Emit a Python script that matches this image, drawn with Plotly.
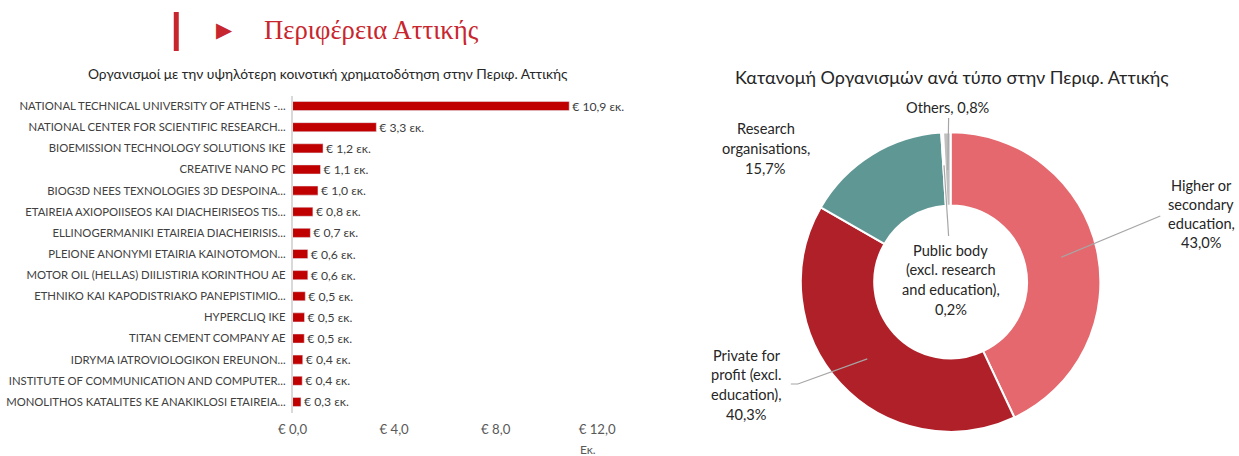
import math
import plotly.graph_objects as go

W, H = 1239, 456

# ---------------- data ----------------
org_names = [
    "NATIONAL TECHNICAL UNIVERSITY OF ATHENS -...",
    "NATIONAL CENTER FOR SCIENTIFIC RESEARCH...",
    "BIOEMISSION TECHNOLOGY SOLUTIONS IKE",
    "CREATIVE NANO PC",
    "BIOG3D NEES TEXNOLOGIES 3D DESPOINA...",
    "ETAIREIA AXIOPOIISEOS KAI DIACHEIRISEOS TIS...",
    "ELLINOGERMANIKI ETAIREIA DIACHEIRISIS...",
    "PLEIONE ANONYMI ETAIRIA KAINOTOMON...",
    "MOTOR OIL (HELLAS) DIILISTIRIA KORINTHOU AE",
    "ETHNIKO KAI KAPODISTRIAKO PANEPISTIMIO...",
    "HYPERCLIQ IKE",
    "TITAN CEMENT COMPANY AE",
    "IDRYMA IATROVIOLOGIKON EREUNON...",
    "INSTITUTE OF COMMUNICATION AND COMPUTER...",
    "MONOLITHOS KATALITES KE ANAKIKLOSI ETAIREIA...",
]
org_funding = [10.9, 3.3, 1.2, 1.1, 1.0, 0.8, 0.7, 0.6, 0.6, 0.5, 0.47, 0.46, 0.4, 0.38, 0.33]
x_ticks = [0, 4, 8, 12]
x_tick_text = ["€ 0,0", "€ 4,0", "€ 8,0", "€ 12,0"]

type_names = [
    "Higher or secondary education",
    "Private for profit (excl. education)",
    "Research organisations",
    "Public body (excl. research and education)",
    "Others",
]
type_shares = [43.0, 40.3, 15.7, 0.2, 0.8]
type_label_lines = [
    ["Higher or", "secondary", "education,", "43,0%"],
    ["Private for", "profit (excl.", "education),", "40,3%"],
    ["Research", "organisations,", "15,7%"],
    ["Public body", "(excl. research", "and education),", "0,2%"],
    ["Others, 0,8%"],
]
type_colors = ["#E4686E", "#B02029", "#5F9795", "#8C8C8C", "#BFBFBF"]

main_title = "Περιφέρεια Αττικής"
bar_title = "Οργανισμοί με την υψηλότερη κοινοτική χρηματοδότηση στην Περιφ. Αττικής"
pie_title = "Κατανομή Οργανισμών ανά τύπο στην Περιφ. Αττικής"

# ---------------- layout helpers ----------------
# the page renders the figure slightly narrower and offset; compensate
SX, OX = 0.974, 13.0


def px(x):
    return (x - OX) / SX / W


def py(y):
    return 1 - y / H


FONT = "Lato"
TXT = "#404040"

# bar plot area (target pixels)
BX0, BX1 = 291, 596
BY0, BY1 = 95.5, 412.5

# donut geometry (target pixels)
CX, CY, R = 950, 282, 150
HOLE = 0.51

fig = go.Figure()

fig.add_trace(go.Bar(
    x=org_funding, y=org_names, orientation="h",
    marker=dict(color="#C00000"),
    texttemplate="€ %{x:.1f} εκ.", textposition="outside",
    textfont=dict(family=FONT, size=12.2, color=TXT),
    cliponaxis=False, constraintext="none",
    xaxis="x", yaxis="y", showlegend=False, hoverinfo="skip",
))

fig.add_trace(go.Pie(
    labels=type_names, values=type_shares, sort=False, direction="clockwise",
    rotation=0, hole=HOLE, textinfo="none",
    marker=dict(colors=type_colors, line=dict(color="white", width=2)),
    domain=dict(x=[px(CX - R), px(CX + R)], y=[py(CY + R), py(CY - R)]),
    showlegend=False, hoverinfo="label+percent",
))

annotations = []
shapes = []


def text_at(x, y, t, size, color="#262626", family=FONT, xanchor="center"):
    annotations.append(dict(x=px(x), y=py(y), xref="paper", yref="paper",
                            xanchor=xanchor, yanchor="middle", text=t, showarrow=False,
                            font=dict(family=family, size=size, color=color)))


# header
shapes.append(dict(type="rect", xref="paper", yref="paper",
                   x0=px(172), x1=px(177), y0=py(51), y1=py(12),
                   fillcolor="#C8262E", line=dict(width=0)))
text_at(223, 30, "▶", 21, color="#C8262E", family="DejaVu Sans")
text_at(260, 30, main_title, 26.7, color="#C8262E", family="Liberation Serif", xanchor="left")
text_at(326, 73, bar_title, 13.8)
text_at(951, 77, pie_title, 18)
text_at(587, 449, "Εκ.", 12, color="#595959")

# donut labels: (center x, first line y, line spacing)
label_pos = [(1201, 185, 19.3), (746, 355, 19.7), (765, 128, 20), (950, 250, 19.7), (947, 107, 0)]
for lines, (lx, ly, sp) in zip(type_label_lines, label_pos):
    for k, t in enumerate(lines):
        text_at(lx, ly + k * sp, t, 14.6)

# leader lines: tip inside the ring, computed from the share angles
total = sum(type_shares)
cum = 0
mids = []
for v in type_shares:
    mids.append((cum + v / 2) / total)
    cum += v


def ring_point(frac, r):
    a = 2 * math.pi * frac
    return CX + r * math.sin(a), CY - r * math.cos(a)


leader_ends = {0: [(1160, 216)], 1: [(797, 384), (790, 384)], 3: [(948, 236)], 4: [(948, 118)]}
tip_r = {0: 113.5, 1: 113.5, 3: 117, 4: 112}
for i, ends in leader_ends.items():
    tx, ty = ring_point(mids[i], tip_r[i])
    pts = [(tx, ty)] + ends
    path = "M " + " L ".join(f"{px(a):.5f},{py(b):.5f}" for a, b in pts)
    shapes.append(dict(type="path", xref="paper", yref="paper", path=path,
                       line=dict(color="#A6A6A6", width=1.2)))

fig.update_layout(
    width=W, height=H, autosize=False, margin=dict(l=0, r=0, t=0, b=0),
    paper_bgcolor="white", plot_bgcolor="white",
    separators=",.",
    bargap=0.57,
    xaxis=dict(domain=[px(BX0), px(BX1)], range=[0, 12], tickvals=x_ticks,
               ticktext=x_tick_text, showgrid=False, zeroline=False,
               showline=False, ticks="", ticklabelstandoff=7,
               tickfont=dict(family=FONT, size=13.2, color="#595959"), fixedrange=True),
    yaxis=dict(domain=[py(BY1), py(BY0)], autorange="reversed", showgrid=False,
               zeroline=False, showline=True, linecolor="#D9D9D9", linewidth=1.5,
               ticks="", ticklabelstandoff=3,
               tickfont=dict(family=FONT, size=11.3, color=TXT), fixedrange=True),
    annotations=annotations, shapes=shapes,
)

fig.write_html("out.html",
               config={"responsive": False, "displayModeBar": False},
               post_script="document.body.style.margin='0';document.body.style.overflow='hidden';")
